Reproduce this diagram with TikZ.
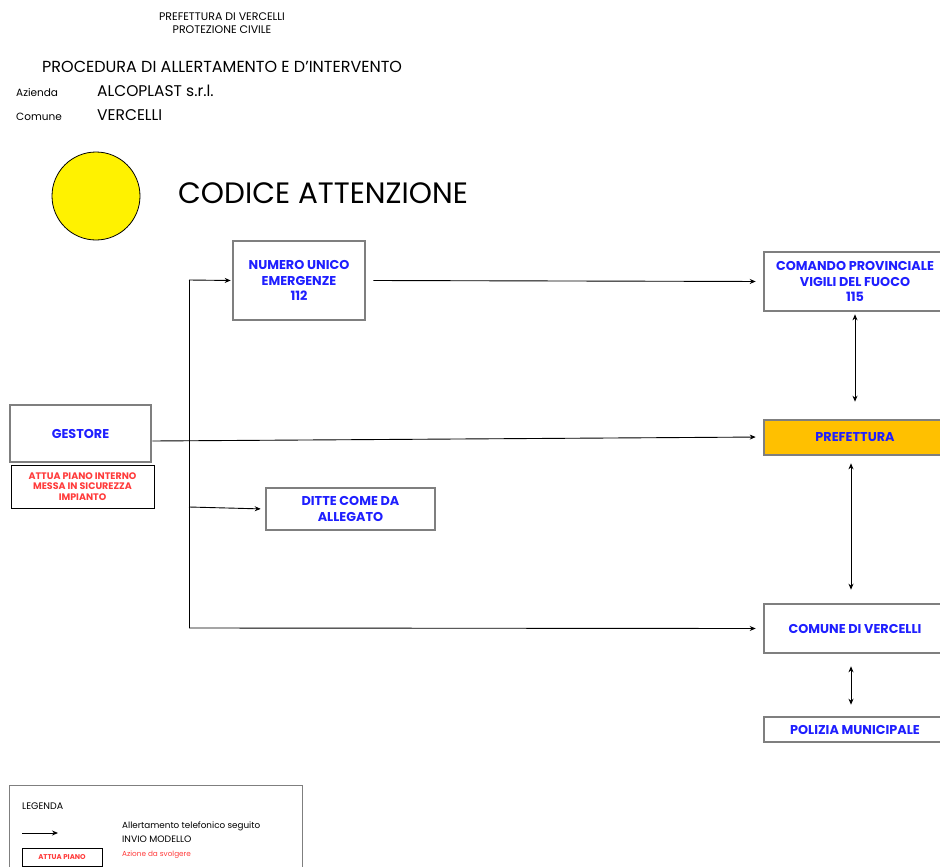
\documentclass[tikz,border=0pt]{standalone}
\usepackage{fontspec}
\setmainfont{Poppins}
\usetikzlibrary{arrows.meta}
\definecolor{boxgray}{HTML}{7F7F7F}
\definecolor{txtblue}{HTML}{1F1FFF}
\definecolor{txtred}{HTML}{FF3B3B}
\definecolor{orangebox}{HTML}{FFC000}
\tikzset{
  bx/.style={draw=boxgray, line width=2.6pt, fill=white, align=center, inner sep=2pt,
    text=txtblue, font=\bfseries\fontsize{12.8}{15.5}\selectfont},
  arr/.style={-{Stealth[length=6pt,width=5pt]}, line width=0.9pt, black},
  darr/.style={{Stealth[length=6pt,width=5pt]}-{Stealth[length=6pt,width=5pt]}, line width=0.9pt, black},
  ln/.style={line width=0.9pt, black},
  plain/.style={inner sep=0pt, anchor=west, text=black}
}
\begin{document}
\begin{tikzpicture}[x=1pt,y=-1pt]
\useasboundingbox (0,0) rectangle (940,867);
\clip (0,0) rectangle (940,867);
\fill[white] (0,0) rectangle (940,867);
% header
\node[inner sep=0pt, align=center, font=\fontsize{11}{13}\selectfont] (hdr) at (222,23) {PREFETTURA DI VERCELLI\\PROTEZIONE CIVILE};
\node[plain, font=\fontsize{16}{18}\selectfont] (proc) at (42,67) {PROCEDURA DI ALLERTAMENTO E D'INTERVENTO};
\node[plain, font=\fontsize{10.5}{12}\selectfont] (az) at (16,93) {Azienda};
\node[plain, font=\fontsize{15.5}{18}\selectfont] (azn) at (97,91) {ALCOPLAST s.r.l.};
\node[plain, font=\fontsize{10.5}{12}\selectfont] (cm) at (16,117) {Comune};
\node[plain, font=\fontsize{15.5}{18}\selectfont] (cmn) at (97,115) {VERCELLI};
% code
\node[circle, draw=black, line width=0.8pt, fill=yellow, minimum size=88pt, inner sep=0pt] (circ) at (96,196) {};
\node[plain, font=\fontsize{29.5}{32}\selectfont] (code) at (178,193) {CODICE ATTENZIONE};
% boxes
\node[bx, minimum width=132pt, minimum height=79pt] (nue) at (299,280.5) {NUMERO UNICO\\EMERGENZE\\112};
\node[bx, minimum width=182pt, minimum height=59pt] (vvf) at (855,281.5) {COMANDO PROVINCIALE\\VIGILI DEL FUOCO\\115};
\node[bx, fill=orangebox, minimum width=182pt, minimum height=35pt] (pref) at (855,437.5) {PREFETTURA};
\node[bx, minimum width=182pt, minimum height=49pt] (comune) at (855,628.5) {COMUNE DI VERCELLI};
\node[bx, minimum width=182pt, minimum height=25pt] (pol) at (855,729.5) {POLIZIA MUNICIPALE};
\node[bx, minimum width=141pt, minimum height=57pt] (gest) at (80.5,433.5) {GESTORE};
\node[draw=black, line width=1pt, fill=white, align=center, inner sep=1pt, text=txtred,
  font=\bfseries\fontsize{9.5}{10.8}\selectfont, minimum width=143pt, minimum height=43pt] (attua) at (82.5,486.5) {ATTUA PIANO INTERNO\\MESSA IN SICUREZZA\\IMPIANTO};
\node[bx, minimum width=169pt, minimum height=42pt] (ditte) at (350.5,509) {DITTE COME DA\\ALLEGATO};
% connectors
\coordinate (j1) at (189,280);
\coordinate (j2) at (189,507);
\coordinate (j3) at (189,628);
\draw[ln] (j1) -- (j3);
\draw[arr, shorten >=1pt] (j1) -- (nue.west);
\draw[arr, shorten >=7pt] ([xshift=7pt]nue.east) -- (vvf.west);
\draw[arr, shorten >=7pt] ([yshift=-7.5pt]gest.east) -- ([yshift=0.5pt]pref.west);
\draw[arr, shorten >=4pt] (j2) -- (ditte.west);
\draw[arr, shorten >=7pt] (j3) -- (comune.west);
\draw[darr, shorten <=2pt, shorten >=17pt] (vvf.south) -- (pref.north);
\draw[darr, shorten <=7pt, shorten >=13pt] ([xshift=-4pt]pref.south) -- ([xshift=-4pt]comune.north);
\draw[darr, shorten <=12pt, shorten >=11pt] ([xshift=-4pt]comune.south) -- ([xshift=-4pt]pol.north);
% legend
\node[draw=boxgray, line width=0.8pt, minimum width=293pt, minimum height=100pt, inner sep=0pt] (leg) at (155.5,835) {};
\node[plain, font=\fontsize{9.5}{10}\selectfont] (legt) at (22,806) {LEGENDA};
\coordinate (la) at (22,833);
\coordinate (lb) at (58,833);
\draw[arr] (la) -- (lb);
\node[plain, font=\fontsize{8.8}{10}\selectfont] (l1) at (122,826) {Allertamento telefonico seguito};
\node[plain, font=\fontsize{9.3}{10}\selectfont] (l2) at (122,839) {INVIO MODELLO};
\node[draw=black, line width=0.9pt, minimum width=80pt, minimum height=18pt, inner sep=0pt, text=txtred,
  font=\bfseries\fontsize{7}{8}\selectfont] (lbox) at (62,857) {ATTUA PIANO};
\node[plain, text=txtred, font=\fontsize{7.3}{10}\selectfont] (l3) at (122,855) {Azione da svolgere};
\end{tikzpicture}
\end{document}
